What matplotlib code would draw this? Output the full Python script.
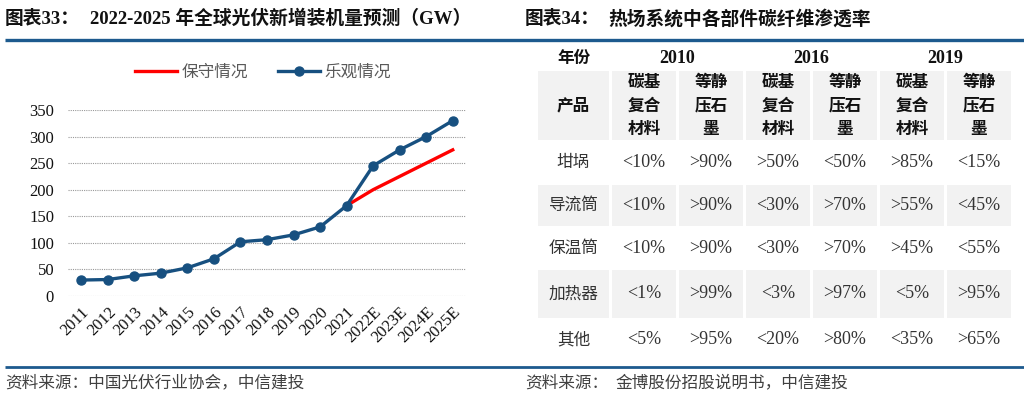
# left: PV installation forecast, right: carbon fibre penetration table
import numpy as np
import matplotlib
matplotlib.use("Agg")
import matplotlib.pyplot as plt
from matplotlib.patches import Rectangle


# data
years = ["2011", "2012", "2013", "2014", "2015", "2016", "2017", "2018",
         "2019", "2020", "2021", "2022E", "2023E", "2024E", "2025E"]
optimistic = [30, 31, 38, 43, 53, 70, 102, 106, 115, 130, 170, 245, 275, 300, 330]
conservative = [None] * 10 + [170, 200, 225, 250, 275]

table_years = ["2010", "2016", "2019"]
table_sub = ["碳基\n复合\n材料", "等静\n压石\n墨"]
products = ["坩埚", "导流筒", "保温筒", "加热器", "其他"]
penetration = [
    ["<10%", ">90%", ">50%", "<50%", ">85%", "<15%"],
    ["<10%", ">90%", "<30%", ">70%", ">55%", "<45%"],
    ["<10%", ">90%", "<30%", ">70%", ">45%", "<55%"],
    ["<1%", ">99%", "<3%", ">97%", "<5%", ">95%"],
    ["<5%", ">95%", "<20%", ">80%", "<35%", ">65%"],
]


# styles
SERIF_CJK = ["Liberation Serif", "Noto Sans CJK SC"]
CJK = ["Noto Sans CJK SC", "DejaVu Sans"]
BLUE = "#175080"
RULE = "#1d5a8e"
RED = "#ff0000"
GRAY_CELL = "#f2f2f2"
W, H = 1024, 394

fig = plt.figure(figsize=(W / 100, H / 100), dpi=100)

# overlay in pixel coordinates for titles, rules and table
ov = fig.add_axes([0, 0, 1, 1])
ov.set_xlim(0, W)
ov.set_ylim(H, 0)
ov.axis("off")

ov.plot([5, W], [40, 40], color=RULE, lw=2.4, solid_capstyle="butt")
ov.plot([5, W], [367, 367], color=RULE, lw=2.0, solid_capstyle="butt")

ov.text(5, 19, "图表33：", family=SERIF_CJK, fontsize=13.5, fontweight="bold",
        va="center", ha="left", color="#111111")
ov.text(90, 19, "2022-2025 年全球光伏新增装机量预测（GW）", family=SERIF_CJK,
        fontsize=13.5, fontweight="bold", va="center", ha="left", color="#111111")
ov.text(525, 19, "图表34：", family=SERIF_CJK, fontsize=13.5, fontweight="bold",
        va="center", ha="left", color="#111111")
ov.text(608, 19, "热场系统中各部件碳纤维渗透率", family=SERIF_CJK, fontsize=13.5,
        fontweight="bold", va="center", ha="left", color="#111111")

ov.text(5, 383, "资料来源：中国光伏行业协会，中信建投", family=CJK, fontsize=12,
        style="italic", va="center", ha="left", color="#404040")
ov.text(525, 383, "资料来源：", family=CJK, fontsize=12, style="italic",
        va="center", ha="left", color="#404040")
ov.text(615, 383, "金博股份招股说明书，中信建投", family=CJK, fontsize=12,
        style="italic", va="center", ha="left", color="#404040")

# table layout
first_left, first_w = 538, 71
col_left0, col_pitch, col_w = 612, 67, 64
head_top, head_bot = 71, 140
row_edges = [140, 185, 226, 270, 318, 362]
col_lefts = [col_left0 + i * col_pitch for i in range(len(penetration[0]))]

ov.text(first_left + first_w / 2, 58, "年份", family=CJK, fontsize=12,
        fontweight="bold", ha="center", va="center", color="#111111")
for k, yr in enumerate(table_years):
    cx = (col_lefts[2 * k] + col_lefts[2 * k + 1] + col_w) / 2
    ov.text(cx, 58, yr, family=SERIF_CJK, fontsize=13, fontweight="bold",
            ha="center", va="center", color="#111111")

# header row (grey)
ov.add_patch(Rectangle((first_left, head_top), first_w, head_bot - head_top,
                       color=GRAY_CELL, lw=0))
ov.text(first_left + first_w / 2, (head_top + head_bot) / 2, "产品", family=CJK,
        fontsize=12, fontweight="bold", ha="center", va="center", color="#111111")
for j, x0 in enumerate(col_lefts):
    ov.add_patch(Rectangle((x0, head_top), col_w, head_bot - head_top,
                           color=GRAY_CELL, lw=0))
    ov.text(x0 + col_w / 2, (head_top + head_bot) / 2, table_sub[j % 2],
            family=CJK, fontsize=12, fontweight="bold", ha="center",
            va="center", linespacing=1.42, color="#111111")

# body rows
for i, prod in enumerate(products):
    top, bot = row_edges[i], row_edges[i + 1]
    cy = (top + bot) / 2
    if i % 2 == 1:
        ov.add_patch(Rectangle((first_left, top), first_w, bot - top,
                               color=GRAY_CELL, lw=0))
        for x0 in col_lefts:
            ov.add_patch(Rectangle((x0, top), col_w, bot - top,
                                   color=GRAY_CELL, lw=0))
    ov.text(first_left + first_w / 2, cy, prod, family=CJK, fontsize=12,
            ha="center", va="center", color="#333333")
    for j, x0 in enumerate(col_lefts):
        ov.text(x0 + col_w / 2, cy, penetration[i][j], family=SERIF_CJK,
                fontsize=13, ha="center", va="center", color="#333333")

# line chart
ax = fig.add_axes([68 / W, 1 - 296 / H, 398 / W, 186 / H])
ax.patch.set_visible(False)
x = np.arange(len(years))
cons = np.array([np.nan if v is None else v for v in conservative], dtype=float)
ax.plot(x, cons, color=RED, lw=2.4, label="保守情况", zorder=3)
ax.plot(x, optimistic, color=BLUE, lw=2.4, marker="o", markersize=6.5,
        label="乐观情况", zorder=4)

ax.set_xlim(-0.5, len(years) - 0.5)
ax.set_ylim(0, 350)
ax.set_yticks(np.arange(0, 351, 50))
ax.set_xticks(x)
ax.set_xticklabels(years, rotation=45, ha="right", rotation_mode="anchor")
ax.grid(axis="y", color="#999999", ls=(0, (1, 1)), lw=0.8)
ax.set_axisbelow(True)
for s in ax.spines.values():
    s.set_visible(False)
ax.tick_params(length=0, labelsize=12, labelcolor="#111111")
ax.tick_params(axis="y", pad=10)
ax.tick_params(axis="x", pad=6)
for lab in ax.get_xticklabels() + ax.get_yticklabels():
    lab.set_family(SERIF_CJK)

leg = ax.legend(loc="center", bbox_to_anchor=(0.49, 1.204), ncol=2, frameon=False,
                prop={"family": CJK, "size": 12}, handlelength=2.5,
                columnspacing=1.8, handletextpad=0.3)
for t in leg.get_texts():
    t.set_color("#595959")

fig.savefig("out.png", dpi=100)
